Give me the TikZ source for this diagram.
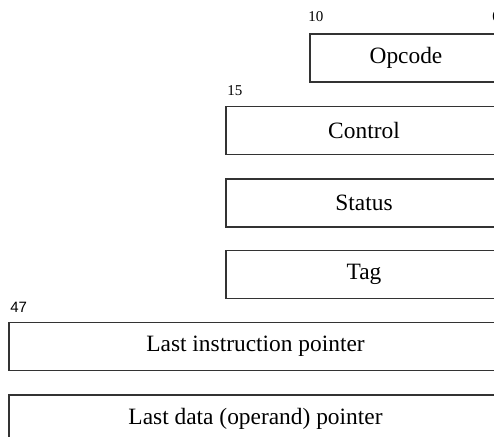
\documentclass[tikz,border=0pt]{standalone}
\usepackage{fontspec}
\setmainfont{Liberation Serif}
\newfontfamily\bitfont{Liberation Sans}
\begin{document}
\begin{tikzpicture}[x=0.5pt,y=-0.5pt,
  field/.style={draw=black!80, line width=0.6pt, minimum height=24pt, inner sep=0pt,
    font=\fontsize{11.7}{14}\selectfont},
  bitnum/.style={inner sep=0pt, anchor=base west, font=\fontsize{7.5}{9}\selectfont}]
\useasboundingbox (0,0) rectangle (494,437);
\clip (0,0) rectangle (494,437);
\node[field, minimum width=96pt] (opcode) at (406,58) {Opcode};
\node[field, minimum width=138pt] (control) at (364,130.5) {Control};
\node[field, minimum width=138pt] (status) at (364,203) {Status};
\node[field, minimum width=138pt] (tag) at (364,274.5) {Tag};
\node[field, minimum width=246.5pt] (lastinstr) at (255.5,346.5) {Last instruction pointer};
\node[field, minimum width=246.5pt] (lastdata) at (255.5,419) {Last data (operand) pointer};

\node[bitnum] (b10) at (308,22) {10};
\node[bitnum] (b0) at (492,22) {0};
\node[bitnum] (b15) at (227,96) {15};
\node[bitnum, font=\bitfont\fontsize{7.5}{9}\selectfont] (b47) at (10,313) {47};
\end{tikzpicture}
\end{document}
